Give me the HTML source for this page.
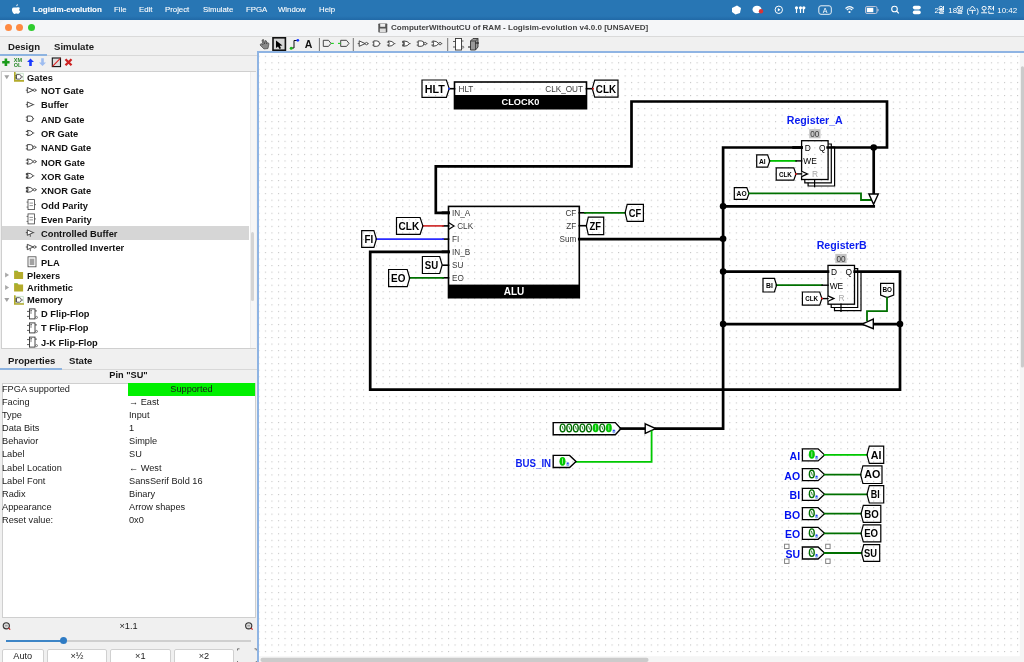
<!DOCTYPE html><html><head><meta charset="utf-8"><style>
html,body{margin:0;padding:0;width:1024px;height:662px;overflow:hidden;background:#f0f0f0;font-family:"Liberation Sans", sans-serif;}
.a{position:absolute;}
.t{position:absolute;white-space:nowrap;line-height:1;}
body>div,svg{will-change:transform;}
</style></head><body>

<div class="a" style="left:0;top:0;width:1024px;height:20px;background:linear-gradient(#2876b4 0,#2876b4 80%,#2169a6 100%);"></div>
<div class="t" style="left:32.5px;top:6.4px;font-size:8.0px;color:#fff;-webkit-text-stroke:0.1px #fff;font-weight:bold;">Logisim-evolution</div>
<div class="t" style="left:113.5px;top:6.4px;font-size:7.8px;color:#fff;-webkit-text-stroke:0.1px #fff;font-weight:normal;">File</div>
<div class="t" style="left:138.7px;top:6.4px;font-size:7.8px;color:#fff;-webkit-text-stroke:0.1px #fff;font-weight:normal;">Edit</div>
<div class="t" style="left:164.6px;top:6.4px;font-size:7.8px;color:#fff;-webkit-text-stroke:0.1px #fff;font-weight:normal;">Project</div>
<div class="t" style="left:202.5px;top:6.4px;font-size:7.8px;color:#fff;-webkit-text-stroke:0.1px #fff;font-weight:normal;">Simulate</div>
<div class="t" style="left:245.5px;top:6.4px;font-size:7.8px;color:#fff;-webkit-text-stroke:0.1px #fff;font-weight:normal;">FPGA</div>
<div class="t" style="left:278px;top:6.4px;font-size:7.8px;color:#fff;-webkit-text-stroke:0.1px #fff;font-weight:normal;">Window</div>
<div class="t" style="left:319px;top:6.4px;font-size:7.8px;color:#fff;-webkit-text-stroke:0.1px #fff;font-weight:normal;">Help</div>
<div class="a" style="left:0;top:20px;width:1024px;height:16.9px;background:#f5f6f8;border-radius:6px 0 0 0;border-bottom:0.9px solid #dadada;box-sizing:border-box;"></div>
<div class="a" style="left:4.8px;top:24.3px;width:7.4px;height:7.4px;border-radius:50%;background:#fe8a42;"></div>
<div class="a" style="left:16.3px;top:24.3px;width:7.4px;height:7.4px;border-radius:50%;background:#fe8a42;"></div>
<div class="a" style="left:28.3px;top:24.3px;width:7.4px;height:7.4px;border-radius:50%;background:#2fcc2f;"></div>
<div class="t" style="left:391px;top:24px;font-size:8.06px;font-weight:bold;color:#444;">ComputerWithoutCU of RAM - Logisim-evolution v4.0.0 [UNSAVED]</div>
<div class="t" style="left:8px;top:42px;font-size:9.6px;font-weight:bold;color:#1a1a1a;">Design</div>
<div class="t" style="left:54px;top:42px;font-size:9.6px;font-weight:bold;color:#1a1a1a;">Simulate</div>
<div class="a" style="left:0;top:55px;width:257px;height:1px;background:#d8d8d8;"></div>
<div class="a" style="left:0;top:53.6px;width:47px;height:2px;background:#8db3e0;"></div>
<div class="a" style="left:1px;top:70.5px;width:255px;height:278px;background:#fff;border:1px solid #cfcfcf;box-sizing:border-box;"></div>
<div class="a" style="left:249.8px;top:71.5px;width:5.5px;height:276px;background:#f6f6f6;border-left:0.6px solid #ececec;box-sizing:border-box;"></div>
<div class="a" style="left:250.5px;top:231.5px;width:3px;height:69px;background:#d4d4d4;border-radius:2px;"></div>
<div class="a" style="left:2px;top:226.2px;width:247px;height:14px;background:#d6d6d6;"></div>
<div class="t" style="left:27px;top:73.5px;font-size:9.3px;font-weight:bold;color:#111;">Gates</div>
<div class="t" style="left:41px;top:87.0px;font-size:9.3px;font-weight:bold;color:#111;">NOT Gate</div>
<div class="t" style="left:41px;top:101.4px;font-size:9.3px;font-weight:bold;color:#111;">Buffer</div>
<div class="t" style="left:41px;top:115.60000000000001px;font-size:9.3px;font-weight:bold;color:#111;">AND Gate</div>
<div class="t" style="left:41px;top:130.1px;font-size:9.3px;font-weight:bold;color:#111;">OR Gate</div>
<div class="t" style="left:41px;top:144.3px;font-size:9.3px;font-weight:bold;color:#111;">NAND Gate</div>
<div class="t" style="left:41px;top:158.6px;font-size:9.3px;font-weight:bold;color:#111;">NOR Gate</div>
<div class="t" style="left:41px;top:172.8px;font-size:9.3px;font-weight:bold;color:#111;">XOR Gate</div>
<div class="t" style="left:41px;top:186.70000000000002px;font-size:9.3px;font-weight:bold;color:#111;">XNOR Gate</div>
<div class="t" style="left:41px;top:201.6px;font-size:9.3px;font-weight:bold;color:#111;">Odd Parity</div>
<div class="t" style="left:41px;top:215.8px;font-size:9.3px;font-weight:bold;color:#111;">Even Parity</div>
<div class="t" style="left:41px;top:230.0px;font-size:9.3px;font-weight:bold;color:#111;">Controlled Buffer</div>
<div class="t" style="left:41px;top:244.3px;font-size:9.3px;font-weight:bold;color:#111;">Controlled Inverter</div>
<div class="t" style="left:41px;top:258.7px;font-size:9.3px;font-weight:bold;color:#111;">PLA</div>
<div class="t" style="left:27px;top:271.59999999999997px;font-size:9.3px;font-weight:bold;color:#111;">Plexers</div>
<div class="t" style="left:27px;top:284.09999999999997px;font-size:9.3px;font-weight:bold;color:#111;">Arithmetic</div>
<div class="t" style="left:27px;top:296.29999999999995px;font-size:9.3px;font-weight:bold;color:#111;">Memory</div>
<div class="t" style="left:41px;top:310.2px;font-size:9.3px;font-weight:bold;color:#111;">D Flip-Flop</div>
<div class="t" style="left:41px;top:324.2px;font-size:9.3px;font-weight:bold;color:#111;">T Flip-Flop</div>
<div class="t" style="left:41px;top:338.7px;font-size:9.3px;font-weight:bold;color:#111;">J-K Flip-Flop</div>
<div class="t" style="left:7.5px;top:355.5px;font-size:9.6px;font-weight:bold;color:#1a1a1a;">Properties</div>
<div class="t" style="left:69.3px;top:355.5px;font-size:9.6px;font-weight:bold;color:#1a1a1a;">State</div>
<div class="a" style="left:0;top:368.5px;width:257px;height:1px;background:#d8d8d8;"></div>
<div class="a" style="left:0;top:367.8px;width:61.5px;height:1.6px;background:#8db3e0;"></div>
<div class="t" style="left:0;width:257px;text-align:center;top:371px;font-size:9.2px;font-weight:bold;color:#111;">Pin "SU"</div>
<div class="a" style="left:1.5px;top:382.5px;width:253.9px;height:235px;background:#fff;border:1px solid #cfcfcf;box-sizing:border-box;"></div>
<div class="a" style="left:128px;top:383.3px;width:127px;height:13px;background:#00f000;"></div>
<div class="t" style="left:2px;top:384.7px;font-size:9.2px;color:#1a1a1a;">FPGA supported</div>
<div class="t" style="left:128px;width:127px;text-align:center;top:384.7px;font-size:9.2px;color:#1a1a1a;">Supported</div>
<div class="t" style="left:2px;top:397.84999999999997px;font-size:9.2px;color:#1a1a1a;">Facing</div>
<div class="t" style="left:128.6px;top:397.84999999999997px;font-size:9.2px;color:#1a1a1a;">→ East</div>
<div class="t" style="left:2px;top:411.0px;font-size:9.2px;color:#1a1a1a;">Type</div>
<div class="t" style="left:128.6px;top:411.0px;font-size:9.2px;color:#1a1a1a;">Input</div>
<div class="t" style="left:2px;top:424.15px;font-size:9.2px;color:#1a1a1a;">Data Bits</div>
<div class="t" style="left:128.6px;top:424.15px;font-size:9.2px;color:#1a1a1a;">1</div>
<div class="t" style="left:2px;top:437.3px;font-size:9.2px;color:#1a1a1a;">Behavior</div>
<div class="t" style="left:128.6px;top:437.3px;font-size:9.2px;color:#1a1a1a;">Simple</div>
<div class="t" style="left:2px;top:450.45px;font-size:9.2px;color:#1a1a1a;">Label</div>
<div class="t" style="left:128.6px;top:450.45px;font-size:9.2px;color:#1a1a1a;">SU</div>
<div class="t" style="left:2px;top:463.6px;font-size:9.2px;color:#1a1a1a;">Label Location</div>
<div class="t" style="left:128.6px;top:463.6px;font-size:9.2px;color:#1a1a1a;">← West</div>
<div class="t" style="left:2px;top:476.75px;font-size:9.2px;color:#1a1a1a;">Label Font</div>
<div class="t" style="left:128.6px;top:476.75px;font-size:9.2px;color:#1a1a1a;">SansSerif Bold 16</div>
<div class="t" style="left:2px;top:489.9px;font-size:9.2px;color:#1a1a1a;">Radix</div>
<div class="t" style="left:128.6px;top:489.9px;font-size:9.2px;color:#1a1a1a;">Binary</div>
<div class="t" style="left:2px;top:503.05px;font-size:9.2px;color:#1a1a1a;">Appearance</div>
<div class="t" style="left:128.6px;top:503.05px;font-size:9.2px;color:#1a1a1a;">Arrow shapes</div>
<div class="t" style="left:2px;top:516.2px;font-size:9.2px;color:#1a1a1a;">Reset value:</div>
<div class="t" style="left:128.6px;top:516.2px;font-size:9.2px;color:#1a1a1a;">0x0</div>
<div class="t" style="left:0;width:257px;text-align:center;top:622px;font-size:9.2px;color:#1a1a1a;">×1.1</div>
<div class="a" style="left:5.8px;top:640px;width:245px;height:1.5px;background:#cfcfcf;"></div>
<div class="a" style="left:5.8px;top:640px;width:58px;height:1.5px;background:#3d85c6;"></div>
<div class="a" style="left:59.8px;top:637.2px;width:7px;height:7px;border-radius:50%;background:#2e7bc4;"></div>
<div class="a" style="left:2px;top:648.6px;width:41.5px;height:20px;background:#fff;border:1px solid #d0d0d0;box-sizing:border-box;border-radius:2px;"></div>
<div class="t" style="left:2px;width:41.5px;text-align:center;top:651.5px;font-size:9.2px;color:#1a1a1a;">Auto</div>
<div class="a" style="left:47px;top:648.6px;width:59.8px;height:20px;background:#fff;border:1px solid #d0d0d0;box-sizing:border-box;border-radius:2px;"></div>
<div class="t" style="left:47px;width:59.8px;text-align:center;top:651.5px;font-size:9.2px;color:#1a1a1a;">×½</div>
<div class="a" style="left:110.2px;top:648.6px;width:60.60000000000001px;height:20px;background:#fff;border:1px solid #d0d0d0;box-sizing:border-box;border-radius:2px;"></div>
<div class="t" style="left:110.2px;width:60.60000000000001px;text-align:center;top:651.5px;font-size:9.2px;color:#1a1a1a;">×1</div>
<div class="a" style="left:174px;top:648.6px;width:60px;height:20px;background:#fff;border:1px solid #d0d0d0;box-sizing:border-box;border-radius:2px;"></div>
<div class="t" style="left:174px;width:60px;text-align:center;top:651.5px;font-size:9.2px;color:#1a1a1a;">×2</div>
<div class="a" style="left:257px;top:51px;width:767px;height:611px;background:#fff;border-left:2px solid #8fb4e3;border-top:2px solid #8fb4e3;box-sizing:border-box;"></div>
<svg class="a" style="left:0;top:0;" width="1024" height="662" viewBox="0 0 1024 662" font-family='"Liberation Sans", sans-serif'>
<defs><pattern id="grid" x="258.30909999999994" y="55.7637" width="6.5409" height="6.5409" patternUnits="userSpaceOnUse"><rect width="1.1" height="1.1" fill="#c4c4c4"/></pattern></defs>
<rect x="259" y="53" width="761" height="604" fill="url(#grid)"/>
<rect x="1019.8" y="53" width="4.2" height="609" fill="#f5f5f5"/>
<rect x="259" y="656.2" width="765" height="6" fill="#f5f5f5"/>
<rect x="260.5" y="657.7" width="388" height="4.3" rx="2" fill="#cbcbcb"/>
<rect x="1020.9" y="66.2" width="3.1" height="301.4" rx="1.5" fill="#cbcbcb"/>
<path d="M448.5,212.8 L435.8,212.8 L435.8,166.4 L631.5,166.4 L631.5,101.5 L887,101.5 L887,147.5 L827.7,147.5" fill="none" stroke="#000" stroke-width="2.7" stroke-linejoin="miter" stroke-linecap="square"/>
<path d="M801.5,147.5 L723.1,147.5 L723.1,428.6 L655.7,428.6" fill="none" stroke="#000" stroke-width="2.7" stroke-linejoin="miter" stroke-linecap="square"/>
<path d="M873.7,147.5 L873.7,194" fill="none" stroke="#000" stroke-width="2.7" stroke-linejoin="miter" stroke-linecap="square"/>
<path d="M723.1,206.3 L873.7,206.3" fill="none" stroke="#000" stroke-width="2.7" stroke-linejoin="miter" stroke-linecap="square"/>
<path d="M579.3,239.1 L723.1,239.1" fill="none" stroke="#000" stroke-width="2.7" stroke-linejoin="miter" stroke-linecap="square"/>
<path d="M448.5,251.8 L370.2,251.8 L370.2,389.6 L900,389.6 L900,271.6 L854.7,271.6" fill="none" stroke="#000" stroke-width="2.7" stroke-linejoin="miter" stroke-linecap="square"/>
<path d="M828,271.6 L723.1,271.6" fill="none" stroke="#000" stroke-width="2.7" stroke-linejoin="miter" stroke-linecap="square"/>
<path d="M723.1,324.1 L900,324.1" fill="none" stroke="#000" stroke-width="2.7" stroke-linejoin="miter" stroke-linecap="square"/>
<path d="M620.9,428.6 L645.2,428.6" fill="none" stroke="#000" stroke-width="2.7" stroke-linejoin="miter" stroke-linecap="square"/>
<circle cx="873.7" cy="147.5" r="3.3" fill="#000"/>
<circle cx="723.1" cy="206.3" r="3.3" fill="#000"/>
<circle cx="723.1" cy="238.7" r="3.3" fill="#000"/>
<circle cx="723.1" cy="271.6" r="3.3" fill="#000"/>
<circle cx="723.1" cy="324.1" r="3.3" fill="#000"/>
<circle cx="900" cy="324.1" r="3.3" fill="#000"/>
<path d="M449.2,88.7 L454.5,88.7" fill="none" stroke="#000" stroke-width="1.6" stroke-linejoin="miter" stroke-linecap="square"/>
<path d="M586.5,88.7 L592.3,88.7" fill="none" stroke="#000" stroke-width="1.6" stroke-linejoin="miter" stroke-linecap="square"/>
<rect x="454.5" y="82" width="132" height="26.7" fill="none" stroke="#000" stroke-width="1.6"/>
<rect x="454.5" y="95" width="132" height="13.7" fill="#000"/>
<text x="458.5" y="91.6" font-size="8.2" text-anchor="start" fill="#3a3a3a" >HLT</text>
<text x="583" y="91.6" font-size="8.2" text-anchor="end" fill="#3a3a3a" >CLK_OUT</text>
<text x="520.5" y="104.6" font-size="9.2" font-weight="bold" text-anchor="middle" fill="#fff" >CLOCK0</text>
<path d="M422.00,80.00 L446.40,80.00 L449.20,88.65 L446.40,97.30 L422.00,97.30 Z" fill="none" stroke="#000" stroke-width="1.2"/>
<text x="424.80" y="92.54" font-size="10.8" font-weight="bold" textLength="20" lengthAdjust="spacingAndGlyphs" fill="#000">HLT</text>
<path d="M594.70,80.20 L618.00,80.20 L618.00,97.20 L594.70,97.20 L592.30,88.70 Z" fill="none" stroke="#000" stroke-width="1.2"/>
<text x="595.80" y="92.59" font-size="10.8" font-weight="bold" textLength="20.2" lengthAdjust="spacingAndGlyphs" fill="#000">CLK</text>
<circle cx="449" cy="88.7" r="1" fill="#2040ff"/>
<circle cx="593" cy="88.7" r="1" fill="#e02020"/>
<path d="M443,212.8 L448.5,212.8" fill="none" stroke="#000" stroke-width="2.7" stroke-linejoin="miter" stroke-linecap="square"/>
<path d="M443,251.8 L448.5,251.8" fill="none" stroke="#000" stroke-width="2.7" stroke-linejoin="miter" stroke-linecap="square"/>
<path d="M443,225.9 L448.5,225.9" fill="none" stroke="#000" stroke-width="1.6" stroke-linejoin="miter" stroke-linecap="square"/>
<path d="M443,239.1 L448.5,239.1" fill="none" stroke="#000" stroke-width="1.6" stroke-linejoin="miter" stroke-linecap="square"/>
<path d="M443,265.2 L448.5,265.2" fill="none" stroke="#000" stroke-width="1.6" stroke-linejoin="miter" stroke-linecap="square"/>
<path d="M443,277.8 L448.5,277.8" fill="none" stroke="#000" stroke-width="1.6" stroke-linejoin="miter" stroke-linecap="square"/>
<path d="M579.3,212.8 L585,212.8" fill="none" stroke="#000" stroke-width="1.6" stroke-linejoin="miter" stroke-linecap="square"/>
<path d="M579.3,225.7 L586.3,225.7" fill="none" stroke="#000" stroke-width="1.6" stroke-linejoin="miter" stroke-linecap="square"/>
<rect x="448.5" y="206.4" width="130.8" height="91.3" fill="none" stroke="#000" stroke-width="1.6"/>
<rect x="448.5" y="284.6" width="130.8" height="13.4" fill="#000"/>
<text x="452" y="215.8" font-size="8.2" text-anchor="start" fill="#3a3a3a" >IN_A</text>
<text x="452" y="242.1" font-size="8.2" text-anchor="start" fill="#3a3a3a" >FI</text>
<text x="452" y="254.8" font-size="8.2" text-anchor="start" fill="#3a3a3a" >IN_B</text>
<text x="452" y="268.2" font-size="8.2" text-anchor="start" fill="#3a3a3a" >SU</text>
<text x="452" y="280.8" font-size="8.2" text-anchor="start" fill="#3a3a3a" >EO</text>
<text x="457.2" y="228.9" font-size="8.2" text-anchor="start" fill="#3a3a3a" >CLK</text>
<path d="M448.5,222.4 L454,225.9 L448.5,229.4" fill="none" stroke="#000" stroke-width="1.2"/>
<text x="576.3" y="215.8" font-size="8.2" text-anchor="end" fill="#3a3a3a" >CF</text>
<text x="576.3" y="228.7" font-size="8.2" text-anchor="end" fill="#3a3a3a" >ZF</text>
<text x="576.3" y="242.1" font-size="8.2" text-anchor="end" fill="#3a3a3a" >Sum</text>
<text x="514" y="295.2" font-size="10" font-weight="bold" text-anchor="middle" fill="#fff" >ALU</text>
<path d="M422.9,225.9 L443,225.9" fill="none" stroke="#cc2020" stroke-width="1.6" stroke-linejoin="miter" stroke-linecap="square"/>
<path d="M376.4,239.1 L443,239.1" fill="none" stroke="#2a2aff" stroke-width="1.8" stroke-linejoin="miter" stroke-linecap="square"/>
<path d="M409.7,277.8 L443,277.8" fill="none" stroke="#007000" stroke-width="1.8" stroke-linejoin="miter" stroke-linecap="square"/>
<path d="M585,212.8 L625.1,212.8" fill="none" stroke="#007000" stroke-width="1.8" stroke-linejoin="miter" stroke-linecap="square"/>
<path d="M396.50,217.50 L420.10,217.50 L422.90,225.90 L420.10,234.30 L396.50,234.30 Z" fill="none" stroke="#000" stroke-width="1.2"/>
<text x="398.60" y="229.79" font-size="10.8" font-weight="bold" textLength="20.6" lengthAdjust="spacingAndGlyphs" fill="#000">CLK</text>
<path d="M361.70,230.70 L373.90,230.70 L376.40,239.00 L373.90,247.30 L361.70,247.30 Z" fill="none" stroke="#000" stroke-width="1.2"/>
<text x="364.50" y="242.89" font-size="10.8" font-weight="bold" textLength="8.7" lengthAdjust="spacingAndGlyphs" fill="#000">FI</text>
<path d="M422.40,256.50 L439.70,256.50 L442.20,265.00 L439.70,273.50 L422.40,273.50 Z" fill="none" stroke="#000" stroke-width="1.2"/>
<text x="424.80" y="268.89" font-size="10.8" font-weight="bold" textLength="13.4" lengthAdjust="spacingAndGlyphs" fill="#000">SU</text>
<path d="M388.60,269.50 L407.20,269.50 L409.70,278.05 L407.20,286.60 L388.60,286.60 Z" fill="none" stroke="#000" stroke-width="1.2"/>
<text x="391.10" y="281.94" font-size="10.8" font-weight="bold" textLength="14.3" lengthAdjust="spacingAndGlyphs" fill="#000">EO</text>
<path d="M627.20,204.40 L643.40,204.40 L643.40,221.30 L627.20,221.30 L625.10,212.85 Z" fill="none" stroke="#000" stroke-width="1.2"/>
<text x="628.80" y="216.59" font-size="10.4" font-weight="bold" textLength="12.4" lengthAdjust="spacingAndGlyphs" fill="#000">CF</text>
<path d="M588.30,217.10 L603.70,217.10 L603.70,234.60 L588.30,234.60 L586.30,225.85 Z" fill="none" stroke="#000" stroke-width="1.2"/>
<text x="589.40" y="229.59" font-size="10.4" font-weight="bold" textLength="11.5" lengthAdjust="spacingAndGlyphs" fill="#000">ZF</text>
<path d="M828.1,144.0 L831.3000000000001,144.0 L831.3000000000001,182.8 L804.8000000000001,182.8 L804.8000000000001,179.5" fill="none" stroke="#000" stroke-width="1.2"/>
<path d="M831.3000000000001,147.2 L834.6,147.2 L834.6,186.0 L808.1,186.0 L808.1,182.8" fill="none" stroke="#000" stroke-width="1.2"/>
<rect x="801.6" y="140.7" width="26.5" height="38.8" fill="none" stroke="#000" stroke-width="1.3"/>
<path d="M814.6,179.5 L814.6,186.7" fill="none" stroke="#000" stroke-width="1.2" stroke-linejoin="miter" stroke-linecap="square"/>
<text x="804.7" y="150.7" font-size="8.4" text-anchor="start" fill="#000" >D</text>
<text x="819.0" y="150.7" font-size="8.4" text-anchor="start" fill="#000" >Q</text>
<text x="803.3000000000001" y="163.79999999999998" font-size="8.4" text-anchor="start" fill="#000" >WE</text>
<text x="812.1" y="176.6" font-size="8.4" text-anchor="start" fill="#a8a8a8" >R</text>
<path d="M801.6,171.2 L807.5,173.89999999999998 L801.6,176.6" fill="#fff" stroke="#000" stroke-width="1.2"/>
<rect x="809.2" y="129.1" width="11.3" height="9.2" fill="#c4c4c4"/>
<text x="814.85" y="136.7" font-size="8.2" text-anchor="middle" fill="#3a3a3a" >00</text>
<text x="786.8" y="124" font-size="10.6" font-weight="bold" text-anchor="start" fill="#0a1cf0" >Register_A</text>
<path d="M854.5,268.7 L857.7,268.7 L857.7,307.5 L831.2,307.5 L831.2,304.2" fill="none" stroke="#000" stroke-width="1.2"/>
<path d="M857.7,271.9 L861.0,271.9 L861.0,310.7 L834.5,310.7 L834.5,307.5" fill="none" stroke="#000" stroke-width="1.2"/>
<rect x="828" y="265.4" width="26.5" height="38.8" fill="none" stroke="#000" stroke-width="1.3"/>
<path d="M841,304.2 L841,311.4" fill="none" stroke="#000" stroke-width="1.2" stroke-linejoin="miter" stroke-linecap="square"/>
<text x="831.1" y="275.4" font-size="8.4" text-anchor="start" fill="#000" >D</text>
<text x="845.4" y="275.4" font-size="8.4" text-anchor="start" fill="#000" >Q</text>
<text x="829.7" y="288.5" font-size="8.4" text-anchor="start" fill="#000" >WE</text>
<text x="838.5" y="301.29999999999995" font-size="8.4" text-anchor="start" fill="#a8a8a8" >R</text>
<path d="M828,295.9 L833.9,298.59999999999997 L828,301.29999999999995" fill="#fff" stroke="#000" stroke-width="1.2"/>
<rect x="835.3" y="253.9" width="11.3" height="9.2" fill="#c4c4c4"/>
<text x="840.9499999999999" y="261.5" font-size="8.2" text-anchor="middle" fill="#3a3a3a" >00</text>
<text x="816.7" y="248.5" font-size="10.6" font-weight="bold" text-anchor="start" fill="#0a1cf0" >RegisterB</text>
<path d="M793.6,147.5 L801.6,147.5" fill="none" stroke="#000" stroke-width="2.7" stroke-linejoin="miter" stroke-linecap="square"/>
<path d="M769.8,160.9 L796,160.9" fill="none" stroke="#00c000" stroke-width="1.8" stroke-linejoin="miter" stroke-linecap="square"/>
<path d="M796,160.9 L801.6,160.9" fill="none" stroke="#000" stroke-width="1.4" stroke-linejoin="miter" stroke-linecap="square"/>
<path d="M796,173.9 L801.6,173.9" fill="none" stroke="#000" stroke-width="1.4" stroke-linejoin="miter" stroke-linecap="square"/>
<path d="M756.70,154.90 L767.60,154.90 L769.80,161.00 L767.60,167.10 L756.70,167.10 Z" fill="none" stroke="#000" stroke-width="1.2"/>
<text x="759.00" y="163.59" font-size="7.2" font-weight="bold" textLength="6.7" lengthAdjust="spacingAndGlyphs" fill="#000">AI</text>
<path d="M776.20,167.90 L793.80,167.90 L796.00,174.05 L793.80,180.20 L776.20,180.20 Z" fill="none" stroke="#000" stroke-width="1.2"/>
<text x="779.00" y="176.64" font-size="7.2" font-weight="bold" textLength="12.9" lengthAdjust="spacingAndGlyphs" fill="#000">CLK</text>
<circle cx="796" cy="173.9" r="1" fill="#e02020"/>
<path d="M734.30,187.60 L746.80,187.60 L749.00,193.50 L746.80,199.40 L734.30,199.40 Z" fill="none" stroke="#000" stroke-width="1.2"/>
<text x="736.60" y="196.09" font-size="7.2" font-weight="bold" textLength="10" lengthAdjust="spacingAndGlyphs" fill="#000">AO</text>
<path d="M749,193.3 L861,193.3 L861,200 L871,200" fill="none" stroke="#007000" stroke-width="1.8" stroke-linejoin="miter" stroke-linecap="square"/>
<path d="M868.90,194.00 L878.30,194.00 L873.60,204.40 Z" fill="#fff" stroke="#000" stroke-width="1.4"/>
<path d="M776.6,285.2 L822,285.2" fill="none" stroke="#007000" stroke-width="1.8" stroke-linejoin="miter" stroke-linecap="square"/>
<path d="M822,285.2 L828,285.2" fill="none" stroke="#000" stroke-width="1.4" stroke-linejoin="miter" stroke-linecap="square"/>
<path d="M821.9,298.6 L828,298.6" fill="none" stroke="#000" stroke-width="1.4" stroke-linejoin="miter" stroke-linecap="square"/>
<path d="M763.00,278.40 L774.40,278.40 L776.60,285.20 L774.40,292.00 L763.00,292.00 Z" fill="none" stroke="#000" stroke-width="1.2"/>
<text x="766.00" y="287.79" font-size="7.2" font-weight="bold" textLength="6.8" lengthAdjust="spacingAndGlyphs" fill="#000">BI</text>
<path d="M802.40,292.00 L819.70,292.00 L821.90,298.55 L819.70,305.10 L802.40,305.10 Z" fill="none" stroke="#000" stroke-width="1.2"/>
<text x="805.20" y="301.14" font-size="7.2" font-weight="bold" textLength="12.9" lengthAdjust="spacingAndGlyphs" fill="#000">CLK</text>
<circle cx="821.9" cy="298.6" r="1" fill="#e02020"/>
<path d="M880.60,283.30 L893.70,283.30 L893.70,295.10 L887.15,297.60 L880.60,295.10 Z" fill="none" stroke="#000" stroke-width="1.2"/>
<text x="882.50" y="291.79" font-size="7.2" font-weight="bold" textLength="9.5" lengthAdjust="spacingAndGlyphs" fill="#000">BO</text>
<path d="M887,297.6 L887,311.2 L867,311.2 L867,320" fill="none" stroke="#007000" stroke-width="1.8" stroke-linejoin="miter" stroke-linecap="square"/>
<path d="M873.30,319.10 L873.30,328.60 L862.00,324.10 Z" fill="#fff" stroke="#000" stroke-width="1.4"/>
<path d="M553.20,422.60 L615.30,422.60 L620.90,428.65 L615.30,434.70 L553.20,434.70 Z" fill="none" stroke="#000" stroke-width="1.4"/>
<ellipse cx="562.6" cy="427.9" rx="2.4" ry="3.8" fill="#fff" stroke="#006e00" stroke-width="1.4"/>
<path d="M562.2,426.09999999999997 L563.2,429.5" stroke="#006e00" stroke-width="0.8"/>
<ellipse cx="569.2" cy="427.9" rx="2.4" ry="3.8" fill="#fff" stroke="#006e00" stroke-width="1.4"/>
<path d="M568.8000000000001,426.09999999999997 L569.8000000000001,429.5" stroke="#006e00" stroke-width="0.8"/>
<ellipse cx="575.8000000000001" cy="427.9" rx="2.4" ry="3.8" fill="#fff" stroke="#006e00" stroke-width="1.4"/>
<path d="M575.4000000000001,426.09999999999997 L576.4000000000001,429.5" stroke="#006e00" stroke-width="0.8"/>
<ellipse cx="582.4" cy="427.9" rx="2.4" ry="3.8" fill="#fff" stroke="#006e00" stroke-width="1.4"/>
<path d="M582.0,426.09999999999997 L583.0,429.5" stroke="#006e00" stroke-width="0.8"/>
<ellipse cx="589.0" cy="427.9" rx="2.4" ry="3.8" fill="#fff" stroke="#006e00" stroke-width="1.4"/>
<path d="M588.6,426.09999999999997 L589.6,429.5" stroke="#006e00" stroke-width="0.8"/>
<ellipse cx="595.6" cy="427.9" rx="3" ry="4.4" fill="#00c800"/>
<path d="M595.6,425.09999999999997 L595.6,430.4" stroke="#bfe8bf" stroke-width="0.8"/>
<ellipse cx="602.2" cy="427.9" rx="2.4" ry="3.8" fill="#fff" stroke="#006e00" stroke-width="1.4"/>
<path d="M601.8000000000001,426.09999999999997 L602.8000000000001,429.5" stroke="#006e00" stroke-width="0.8"/>
<ellipse cx="608.8000000000001" cy="427.9" rx="3" ry="4.4" fill="#00c800"/>
<path d="M608.8000000000001,425.09999999999997 L608.8000000000001,430.4" stroke="#bfe8bf" stroke-width="0.8"/>
<rect x="612.4" y="429.5" width="3" height="3.9" rx="1.3" fill="#8fb0ee"/><circle cx="613.9" cy="430.5" r="0.8" fill="#1a2aff"/>
<path d="M645.20,423.80 L645.20,433.50 L655.70,428.60 Z" fill="#fff" stroke="#000" stroke-width="1.4"/>
<path d="M651.6,431.5 L651.6,461.9 L576,461.9" fill="none" stroke="#00c800" stroke-width="1.8" stroke-linejoin="miter" stroke-linecap="square"/>
<path d="M553.20,455.40 L569.60,455.40 L576.00,461.45 L569.60,467.50 L553.20,467.50 Z" fill="none" stroke="#000" stroke-width="1.4"/>
<ellipse cx="562.5" cy="461.3" rx="3" ry="4.4" fill="#00c800"/>
<path d="M562.5,458.5 L562.5,463.8" stroke="#bfe8bf" stroke-width="0.8"/>
<rect x="566.3" y="462.3" width="3" height="3.9" rx="1.3" fill="#8fb0ee"/><circle cx="567.8" cy="463.3" r="0.8" fill="#1a2aff"/>
<text x="515.5" y="467" font-size="10.6" font-weight="bold" text-anchor="start" fill="#0a1cf0" textLength="35.6" lengthAdjust="spacingAndGlyphs">BUS_IN</text>
<path d="M802.40,448.90 L818.10,448.90 L824.50,454.90 L818.10,460.90 L802.40,460.90 Z" fill="none" stroke="#000" stroke-width="1.3"/>
<ellipse cx="811.8" cy="454.29999999999995" rx="3" ry="4.4" fill="#00c800"/>
<path d="M811.8,451.49999999999994 L811.8,456.79999999999995" stroke="#bfe8bf" stroke-width="0.8"/>
<rect x="815.1" y="455.79999999999995" width="3" height="3.9" rx="1.3" fill="#8fb0ee"/><circle cx="816.6" cy="456.79999999999995" r="0.8" fill="#1a2aff"/>
<path d="M824.6,454.9 L867,454.9" fill="none" stroke="#00c800" stroke-width="1.8" stroke-linejoin="miter" stroke-linecap="square"/>
<path d="M869.30,446.20 L883.70,446.20 L883.70,463.40 L869.30,463.40 L867.00,454.80 Z" fill="none" stroke="#000" stroke-width="1.2"/>
<text x="870.80" y="458.54" font-size="10.4" font-weight="bold" textLength="10.7" lengthAdjust="spacingAndGlyphs" fill="#000">AI</text>
<text x="800.1" y="459.9" font-size="10.5" font-weight="bold" text-anchor="end" fill="#0010f0" >AI</text>
<path d="M802.40,468.60 L818.10,468.60 L824.50,474.60 L818.10,480.60 L802.40,480.60 Z" fill="none" stroke="#000" stroke-width="1.3"/>
<ellipse cx="811.8" cy="474.0" rx="2.4" ry="3.8" fill="#fff" stroke="#006e00" stroke-width="1.4"/>
<path d="M811.4,472.2 L812.4,475.6" stroke="#006e00" stroke-width="0.8"/>
<rect x="815.1" y="475.5" width="3" height="3.9" rx="1.3" fill="#8fb0ee"/><circle cx="816.6" cy="476.5" r="0.8" fill="#1a2aff"/>
<path d="M824.6,474.6 L860.6,474.6" fill="none" stroke="#007000" stroke-width="1.8" stroke-linejoin="miter" stroke-linecap="square"/>
<path d="M862.90,465.80 L882.00,465.80 L882.00,483.50 L862.90,483.50 L860.60,474.65 Z" fill="none" stroke="#000" stroke-width="1.2"/>
<text x="864.30" y="478.39" font-size="10.4" font-weight="bold" textLength="16.1" lengthAdjust="spacingAndGlyphs" fill="#000">AO</text>
<text x="800.1" y="479.6" font-size="10.5" font-weight="bold" text-anchor="end" fill="#0010f0" >AO</text>
<path d="M802.40,488.30 L818.10,488.30 L824.50,494.30 L818.10,500.30 L802.40,500.30 Z" fill="none" stroke="#000" stroke-width="1.3"/>
<ellipse cx="811.8" cy="493.7" rx="2.4" ry="3.8" fill="#fff" stroke="#006e00" stroke-width="1.4"/>
<path d="M811.4,491.9 L812.4,495.3" stroke="#006e00" stroke-width="0.8"/>
<rect x="815.1" y="495.2" width="3" height="3.9" rx="1.3" fill="#8fb0ee"/><circle cx="816.6" cy="496.2" r="0.8" fill="#1a2aff"/>
<path d="M824.6,494.3 L867,494.3" fill="none" stroke="#007000" stroke-width="1.8" stroke-linejoin="miter" stroke-linecap="square"/>
<path d="M869.30,485.60 L883.70,485.60 L883.70,503.00 L869.30,503.00 L867.00,494.30 Z" fill="none" stroke="#000" stroke-width="1.2"/>
<text x="870.80" y="498.04" font-size="10.4" font-weight="bold" textLength="8.9" lengthAdjust="spacingAndGlyphs" fill="#000">BI</text>
<text x="800.1" y="499.3" font-size="10.5" font-weight="bold" text-anchor="end" fill="#0010f0" >BI</text>
<path d="M802.40,507.70 L818.10,507.70 L824.50,513.70 L818.10,519.70 L802.40,519.70 Z" fill="none" stroke="#000" stroke-width="1.3"/>
<ellipse cx="811.8" cy="513.1" rx="2.4" ry="3.8" fill="#fff" stroke="#006e00" stroke-width="1.4"/>
<path d="M811.4,511.3 L812.4,514.7" stroke="#006e00" stroke-width="0.8"/>
<rect x="815.1" y="514.6" width="3" height="3.9" rx="1.3" fill="#8fb0ee"/><circle cx="816.6" cy="515.6" r="0.8" fill="#1a2aff"/>
<path d="M824.6,513.7 L861,513.7" fill="none" stroke="#007000" stroke-width="1.8" stroke-linejoin="miter" stroke-linecap="square"/>
<path d="M863.30,505.40 L880.80,505.40 L880.80,522.30 L863.30,522.30 L861.00,513.85 Z" fill="none" stroke="#000" stroke-width="1.2"/>
<text x="864.20" y="517.59" font-size="10.4" font-weight="bold" textLength="14.5" lengthAdjust="spacingAndGlyphs" fill="#000">BO</text>
<text x="800.1" y="518.7" font-size="10.5" font-weight="bold" text-anchor="end" fill="#0010f0" >BO</text>
<path d="M802.40,527.30 L818.10,527.30 L824.50,533.30 L818.10,539.30 L802.40,539.30 Z" fill="none" stroke="#000" stroke-width="1.3"/>
<ellipse cx="811.8" cy="532.6999999999999" rx="2.4" ry="3.8" fill="#fff" stroke="#006e00" stroke-width="1.4"/>
<path d="M811.4,530.9 L812.4,534.3" stroke="#006e00" stroke-width="0.8"/>
<rect x="815.1" y="534.1999999999999" width="3" height="3.9" rx="1.3" fill="#8fb0ee"/><circle cx="816.6" cy="535.1999999999999" r="0.8" fill="#1a2aff"/>
<path d="M824.6,533.3 L861,533.3" fill="none" stroke="#007000" stroke-width="1.8" stroke-linejoin="miter" stroke-linecap="square"/>
<path d="M863.30,524.90 L880.80,524.90 L880.80,541.90 L863.30,541.90 L861.00,533.40 Z" fill="none" stroke="#000" stroke-width="1.2"/>
<text x="864.20" y="537.14" font-size="10.4" font-weight="bold" textLength="13.9" lengthAdjust="spacingAndGlyphs" fill="#000">EO</text>
<text x="800.1" y="538.3" font-size="10.5" font-weight="bold" text-anchor="end" fill="#0010f0" >EO</text>
<path d="M802.40,547.00 L818.10,547.00 L824.50,553.00 L818.10,559.00 L802.40,559.00 Z" fill="none" stroke="#000" stroke-width="1.3"/>
<ellipse cx="811.8" cy="552.4" rx="2.4" ry="3.8" fill="#fff" stroke="#006e00" stroke-width="1.4"/>
<path d="M811.4,550.6 L812.4,554.0" stroke="#006e00" stroke-width="0.8"/>
<rect x="815.1" y="553.9" width="3" height="3.9" rx="1.3" fill="#8fb0ee"/><circle cx="816.6" cy="554.9" r="0.8" fill="#1a2aff"/>
<path d="M824.6,553.0 L861.5,553.0" fill="none" stroke="#007000" stroke-width="1.8" stroke-linejoin="miter" stroke-linecap="square"/>
<path d="M863.80,544.60 L879.70,544.60 L879.70,561.40 L863.80,561.40 L861.50,553.00 Z" fill="none" stroke="#000" stroke-width="1.2"/>
<text x="864.00" y="556.74" font-size="10.4" font-weight="bold" textLength="13" lengthAdjust="spacingAndGlyphs" fill="#000">SU</text>
<text x="800.1" y="558.0" font-size="10.5" font-weight="bold" text-anchor="end" fill="#0010f0" >SU</text>
<rect x="784.5999999999999" y="544.1999999999999" width="4.4" height="4.4" fill="#fff" stroke="#777" stroke-width="0.9"/>
<rect x="825.6999999999999" y="544.1999999999999" width="4.4" height="4.4" fill="#fff" stroke="#777" stroke-width="0.9"/>
<rect x="784.5999999999999" y="559.0" width="4.4" height="4.4" fill="#fff" stroke="#777" stroke-width="0.9"/>
<rect x="825.6999999999999" y="559.0" width="4.4" height="4.4" fill="#fff" stroke="#777" stroke-width="0.9"/>
<path d="M4.3,75.3 L9.3,75.3 L6.8,79.3 Z" fill="#a0a0a0"/>
<path d="M15.3,73.3 L23.3,73.3 L23.3,80.3 L15.3,80.3 Z" fill="#fff" stroke="#9c9" stroke-width="0.5"/>
<path d="M14,72.1 L15.6,72.1 L15.6,80.1 L24,80.1 L24,81.69999999999999 L14,81.69999999999999 Z" fill="#b3ab2b"/>
<path d="M16.5,74.6 L19.5,74.6 A2.3,2.3 0 0 1 19.5,79.1 L16.5,79.1 Z" fill="none" stroke="#333" stroke-width="0.8"/>
<path d="M15,75.89999999999999 L16.5,75.89999999999999 M15,77.89999999999999 L16.5,77.89999999999999 M21.8,76.89999999999999 L23,76.89999999999999" stroke="#333" stroke-width="0.7"/>
<path d="M5.1,272.5 L9.1,275.0 L5.1,277.5 Z" fill="#a8a8a8"/>
<path d="M14.1,270.8 L17.6,270.8 L18.6,272.0 L23.1,272.0 L23.1,279.1 L14.1,279.1 Z" fill="#b3ab2b"/>
<path d="M14.6,271.3 L17.1,271.3" stroke="#5c5" stroke-width="0.6"/>
<path d="M5.1,285 L9.1,287.5 L5.1,290 Z" fill="#a8a8a8"/>
<path d="M14.1,283.3 L17.6,283.3 L18.6,284.5 L23.1,284.5 L23.1,291.6 L14.1,291.6 Z" fill="#b3ab2b"/>
<path d="M14.6,283.8 L17.1,283.8" stroke="#5c5" stroke-width="0.6"/>
<path d="M4.3,298 L9.3,298 L6.8,302 Z" fill="#a0a0a0"/>
<path d="M15.3,296.4 L23.3,296.4 L23.3,303.4 L15.3,303.4 Z" fill="#fff" stroke="#9c9" stroke-width="0.5"/>
<path d="M14,295.2 L15.6,295.2 L15.6,303.2 L24,303.2 L24,304.8 L14,304.8 Z" fill="#b3ab2b"/>
<path d="M16.5,297.7 L19.5,297.7 A2.3,2.3 0 0 1 19.5,302.2 L16.5,302.2 Z" fill="none" stroke="#333" stroke-width="0.8"/>
<path d="M15,299.0 L16.5,299.0 M15,301.0 L16.5,301.0 M21.8,300.0 L23,300.0" stroke="#333" stroke-width="0.7"/>
<path d="M27.3,87.5 L33.3,90.2 L27.3,92.9 Z" fill="#fff" stroke="#333" stroke-width="0.9"/><path d="M25.8,90.2 L27.3,90.2" stroke="#333" stroke-width="0.8"/><circle cx="34.6" cy="90.2" r="1.2" fill="#fff" stroke="#333" stroke-width="0.8"/><path d="M35.8,90.2 L36.8,90.2" stroke="#333" stroke-width="0.8"/>
<path d="M27.3,101.89999999999999 L33.3,104.6 L27.3,107.3 Z" fill="#fff" stroke="#333" stroke-width="0.9"/><path d="M25.8,104.6 L27.3,104.6" stroke="#333" stroke-width="0.8"/><path d="M33.3,104.6 L34.3,104.6" stroke="#333" stroke-width="0.8"/>
<path d="M27.3,116.0 L30.3,116.0 A2.7,2.7 0 0 1 30.3,121.4 L27.3,121.4 Z" fill="#fff" stroke="#333" stroke-width="0.9"/><path d="M25.8,117.2 L27.3,117.2 M25.8,120.2 L27.3,120.2" stroke="#333" stroke-width="0.8"/><path d="M33.0,118.7 L34.1,118.7" stroke="#333" stroke-width="0.8"/>
<path d="M27.3,130.3 Q31.3,130.3 33.3,133 Q31.3,135.7 27.3,135.7 Q28.900000000000002,133 27.3,130.3 Z" fill="#fff" stroke="#333" stroke-width="0.9"/><path d="M25.8,131.5 L28.1,131.5 M25.8,134.5 L28.1,134.5" stroke="#333" stroke-width="0.8"/><path d="M33.3,133 L34.3,133" stroke="#333" stroke-width="0.8"/>
<path d="M27.3,144.60000000000002 L30.3,144.60000000000002 A2.7,2.7 0 0 1 30.3,150.0 L27.3,150.0 Z" fill="#fff" stroke="#333" stroke-width="0.9"/><path d="M25.8,145.8 L27.3,145.8 M25.8,148.8 L27.3,148.8" stroke="#333" stroke-width="0.8"/><circle cx="34.3" cy="147.3" r="1.2" fill="#fff" stroke="#333" stroke-width="0.8"/><path d="M35.5,147.3 L36.6,147.3" stroke="#333" stroke-width="0.8"/>
<path d="M27.3,158.9 Q31.3,158.9 33.3,161.6 Q31.3,164.29999999999998 27.3,164.29999999999998 Q28.900000000000002,161.6 27.3,158.9 Z" fill="#fff" stroke="#333" stroke-width="0.9"/><path d="M25.8,160.1 L28.1,160.1 M25.8,163.1 L28.1,163.1" stroke="#333" stroke-width="0.8"/><circle cx="34.6" cy="161.6" r="1.2" fill="#fff" stroke="#333" stroke-width="0.8"/><path d="M35.8,161.6 L36.8,161.6" stroke="#333" stroke-width="0.8"/>
<path d="M27.3,173.10000000000002 Q31.3,173.10000000000002 33.3,175.8 Q31.3,178.5 27.3,178.5 Q28.900000000000002,175.8 27.3,173.10000000000002 Z" fill="#fff" stroke="#333" stroke-width="0.9"/><path d="M25.8,174.3 L28.1,174.3 M25.8,177.3 L28.1,177.3" stroke="#333" stroke-width="0.8"/><path d="M26.3,173.10000000000002 Q27.900000000000002,175.8 26.3,178.5" fill="none" stroke="#333" stroke-width="0.9"/><path d="M33.3,175.8 L34.3,175.8" stroke="#333" stroke-width="0.8"/>
<path d="M27.3,187.0 Q31.3,187.0 33.3,189.7 Q31.3,192.39999999999998 27.3,192.39999999999998 Q28.900000000000002,189.7 27.3,187.0 Z" fill="#fff" stroke="#333" stroke-width="0.9"/><path d="M25.8,188.2 L28.1,188.2 M25.8,191.2 L28.1,191.2" stroke="#333" stroke-width="0.8"/><path d="M26.3,187.0 Q27.900000000000002,189.7 26.3,192.39999999999998" fill="none" stroke="#333" stroke-width="0.9"/><circle cx="34.6" cy="189.7" r="1.2" fill="#fff" stroke="#333" stroke-width="0.8"/><path d="M35.8,189.7 L36.8,189.7" stroke="#333" stroke-width="0.8"/>
<path d="M27.3,229.9 L33.3,232.6 L27.3,235.29999999999998 Z" fill="#fff" stroke="#333" stroke-width="0.9"/><path d="M25.8,232.6 L27.3,232.6" stroke="#333" stroke-width="0.8"/><path d="M33.3,232.6 L34.3,232.6" stroke="#333" stroke-width="0.8"/><path d="M30.3,234.4 L30.3,236.79999999999998" stroke="#333" stroke-width="0.8"/>
<path d="M27.3,244.3 L33.3,247 L27.3,249.7 Z" fill="#fff" stroke="#333" stroke-width="0.9"/><path d="M25.8,247 L27.3,247" stroke="#333" stroke-width="0.8"/><circle cx="34.6" cy="247" r="1.2" fill="#fff" stroke="#333" stroke-width="0.8"/><path d="M35.8,247 L36.8,247" stroke="#333" stroke-width="0.8"/><path d="M30.3,248.8 L30.3,251.2" stroke="#333" stroke-width="0.8"/>
<rect x="28" y="199.6" width="6.5" height="10" fill="#fff" stroke="#444" stroke-width="0.8"/>
<path d="M26.5,202.1 L28,202.1 M26.5,207.1 L28,207.1 M34.5,204.6 L36,204.6" stroke="#444" stroke-width="0.7"/>
<path d="M29.5,203.1 L33,203.1 M29.5,205.6 L33,205.6" stroke="#777" stroke-width="0.8"/>
<rect x="28" y="213.9" width="6.5" height="10" fill="#fff" stroke="#444" stroke-width="0.8"/>
<path d="M26.5,216.4 L28,216.4 M26.5,221.4 L28,221.4 M34.5,218.9 L36,218.9" stroke="#444" stroke-width="0.7"/>
<path d="M29.5,217.4 L33,217.4 M29.5,219.9 L33,219.9" stroke="#777" stroke-width="0.8"/>
<rect x="28" y="256.8" width="8" height="10" fill="#fff" stroke="#444" stroke-width="0.8"/>
<rect x="29.5" y="258.5" width="5" height="6.6" fill="#bbb"/>
<path d="M30,260 L34,260 M30,262 L34,262 M30,264 L34,264" stroke="#666" stroke-width="0.6"/>
<rect x="29.5" y="308.9" width="5.5" height="10" fill="#fff" stroke="#333" stroke-width="0.9"/>
<path d="M27,311.4 L29.5,311.4 M27,316.4 L29.5,316.4 M35,310.9 L37,310.9" stroke="#333" stroke-width="0.8"/>
<circle cx="36.5" cy="317.4" r="1" fill="#fff" stroke="#333" stroke-width="0.6"/>
<path d="M30.5,310.4 L32,310.4 M31,309.9 L31,313.9 " stroke="#333" stroke-width="0.6"/>
<rect x="29.5" y="322.9" width="5.5" height="10" fill="#fff" stroke="#333" stroke-width="0.9"/>
<path d="M27,325.4 L29.5,325.4 M27,330.4 L29.5,330.4 M35,324.9 L37,324.9" stroke="#333" stroke-width="0.8"/>
<circle cx="36.5" cy="331.4" r="1" fill="#fff" stroke="#333" stroke-width="0.6"/>
<path d="M30.5,324.4 L32,324.4 M31,323.9 L31,327.9 " stroke="#333" stroke-width="0.6"/>
<rect x="29.5" y="337.1" width="5.5" height="10" fill="#fff" stroke="#333" stroke-width="0.9"/>
<path d="M27,339.6 L29.5,339.6 M27,344.6 L29.5,344.6 M35,339.1 L37,339.1" stroke="#333" stroke-width="0.8"/>
<circle cx="36.5" cy="345.6" r="1" fill="#fff" stroke="#333" stroke-width="0.6"/>
<path d="M30.5,338.6 L32,338.6 M31,338.1 L31,342.1 " stroke="#333" stroke-width="0.6"/>
<path d="M5.9,58.5 L5.9,66 M2.2,62.2 L9.6,62.2" stroke="#1a9a1a" stroke-width="2.6"/>
<text x="13.8" y="62" font-size="5.5" font-weight="bold" fill="#2a8a2a">XM</text><text x="13.8" y="67" font-size="5.5" font-weight="bold" fill="#2a8a2a">OL</text>
<path d="M30.5,58.5 L34,62 L31.8,62 L31.8,66 L29.2,66 L29.2,62 L27,62 Z" fill="#1a3aff"/>
<path d="M42.5,66 L46,62.5 L43.8,62.5 L43.8,58.3 L41.2,58.3 L41.2,62.5 L39,62.5 Z" fill="#9dbcf0"/>
<rect x="52.3" y="58" width="8.2" height="8.6" fill="#ddd" stroke="#111" stroke-width="1.1"/>
<path d="M52.5,66.3 L60.3,58.3" stroke="#dd2222" stroke-width="1.1"/>
<path d="M65.5,59.2 L71.5,65.2 M71.5,59.2 L65.5,65.2" stroke="#cc2222" stroke-width="2.3"/>
<path d="M262,40 L263.5,39.5 L264.5,44 L265,40.5 L266.5,41 L266.5,44 L267.5,42.5 L269,43.5 L268,48.5 L264,49 L260,45 L261,43.5 L263,45 Z" fill="#8a8a8a" stroke="#333" stroke-width="0.6"/>
<rect x="273" y="37.8" width="12.4" height="12.4" fill="#d6d6d6" stroke="#111" stroke-width="1.6"/>
<path d="M276,40.5 L276,48 L278,46.5 L279.5,49 L281,48.2 L279.8,45.8 L282.5,45.5 Z" fill="#000"/>
<path d="M291,48 L294,48 L294,40.5 L297.8,40.5" fill="none" stroke="#111" stroke-width="1"/>
<circle cx="291.2" cy="48.2" r="1.5" fill="#1db51d"/><circle cx="297.8" cy="40.3" r="1.4" fill="#1a3aff"/>
<text x="308.6" y="48.3" font-size="10.5" font-weight="bold" text-anchor="middle" fill="#111">A</text>
<path d="M319.4,38 L319.4,51 M353.3,38 L353.3,51 M447.7,38 L447.7,51" stroke="#666" stroke-width="0.9"/>
<path d="M323.3,40.3 L328.5,40.3 L331,43.4 L328.5,46.4 L323.3,46.4 Z" fill="#efefef" stroke="#333" stroke-width="0.9" stroke-linejoin="round"/><path d="M331,43.4 L333.8,43.4" stroke="#1bd01b" stroke-width="1.1"/>
<path d="M340.7,40.3 L346.5,40.3 L349,43.4 L346.5,46.4 L340.7,46.4 Z" fill="#efefef" stroke="#333" stroke-width="0.9" stroke-linejoin="round"/><path d="M338,43.4 L340.7,43.4" stroke="#1bd01b" stroke-width="1.1"/>
<path d="M359.2,40.9 L365.2,43.6 L359.2,46.300000000000004 Z" fill="#fff" stroke="#333" stroke-width="0.9"/><path d="M357.7,43.6 L359.2,43.6" stroke="#333" stroke-width="0.8"/><circle cx="366.5" cy="43.6" r="1.2" fill="#fff" stroke="#333" stroke-width="0.8"/><path d="M367.7,43.6 L368.7,43.6" stroke="#333" stroke-width="0.8"/>
<path d="M373.8,40.9 L376.8,40.9 A2.7,2.7 0 0 1 376.8,46.300000000000004 L373.8,46.300000000000004 Z" fill="#fff" stroke="#333" stroke-width="0.9"/><path d="M372.3,42.1 L373.8,42.1 M372.3,45.1 L373.8,45.1" stroke="#333" stroke-width="0.8"/><path d="M379.5,43.6 L380.6,43.6" stroke="#333" stroke-width="0.8"/>
<path d="M388.4,40.9 Q392.4,40.9 394.4,43.6 Q392.4,46.300000000000004 388.4,46.300000000000004 Q390.0,43.6 388.4,40.9 Z" fill="#fff" stroke="#333" stroke-width="0.9"/><path d="M386.9,42.1 L389.2,42.1 M386.9,45.1 L389.2,45.1" stroke="#333" stroke-width="0.8"/><path d="M394.4,43.6 L395.4,43.6" stroke="#333" stroke-width="0.8"/>
<path d="M403.6,40.9 Q407.6,40.9 409.6,43.6 Q407.6,46.300000000000004 403.6,46.300000000000004 Q405.20000000000005,43.6 403.6,40.9 Z" fill="#fff" stroke="#333" stroke-width="0.9"/><path d="M402.1,42.1 L404.40000000000003,42.1 M402.1,45.1 L404.40000000000003,45.1" stroke="#333" stroke-width="0.8"/><path d="M402.6,40.9 Q404.20000000000005,43.6 402.6,46.300000000000004" fill="none" stroke="#333" stroke-width="0.9"/><path d="M409.6,43.6 L410.6,43.6" stroke="#333" stroke-width="0.8"/>
<path d="M418.2,40.9 L421.2,40.9 A2.7,2.7 0 0 1 421.2,46.300000000000004 L418.2,46.300000000000004 Z" fill="#fff" stroke="#333" stroke-width="0.9"/><path d="M416.7,42.1 L418.2,42.1 M416.7,45.1 L418.2,45.1" stroke="#333" stroke-width="0.8"/><circle cx="425.2" cy="43.6" r="1.2" fill="#fff" stroke="#333" stroke-width="0.8"/><path d="M426.4,43.6 L427.5,43.6" stroke="#333" stroke-width="0.8"/>
<path d="M432.8,40.9 Q436.8,40.9 438.8,43.6 Q436.8,46.300000000000004 432.8,46.300000000000004 Q434.40000000000003,43.6 432.8,40.9 Z" fill="#fff" stroke="#333" stroke-width="0.9"/><path d="M431.3,42.1 L433.6,42.1 M431.3,45.1 L433.6,45.1" stroke="#333" stroke-width="0.8"/><circle cx="440.1" cy="43.6" r="1.2" fill="#fff" stroke="#333" stroke-width="0.8"/><path d="M441.3,43.6 L442.3,43.6" stroke="#333" stroke-width="0.8"/>
<rect x="455.5" y="38.5" width="6" height="11.5" fill="#fff" stroke="#333" stroke-width="0.9"/><path d="M453,41.5 L455.5,41.5 M453,47 L455.5,47 M461.5,41 L463.5,41" stroke="#333" stroke-width="0.8"/><circle cx="462.8" cy="47.2" r="1" fill="#fff" stroke="#333" stroke-width="0.6"/>
<path d="M470.5,41 L473,38.5 L478,38.5 L478,47 L475.5,50 L470.5,50 Z" fill="#999" stroke="#333" stroke-width="0.9"/><path d="M470.5,41 L475.5,41 L475.5,50 M475.5,41 L478,38.5" fill="none" stroke="#333" stroke-width="0.8"/><path d="M468,47 L470.5,47 M475.5,43 L479,43" stroke="#111" stroke-width="1"/>
<rect x="378.3" y="23.5" width="9" height="9" rx="0.8" fill="#555"/><rect x="380.2" y="23.8" width="5" height="3" fill="#eee"/><rect x="379.8" y="28.5" width="6" height="3.6" fill="#ddd"/>
<circle cx="6.3" cy="625.8" r="3.1" fill="#d8d8d8" stroke="#333" stroke-width="1.1"/><path d="M5.0,625.8 L7.6,625.8" stroke="#777" stroke-width="0.8"/><path d="M8.6,628 L10.2,629.6" stroke="#c22" stroke-width="1.2"/>
<circle cx="248.7" cy="625.8" r="3.1" fill="#d8d8d8" stroke="#333" stroke-width="1.1"/><path d="M247.39999999999998,625.8 L250.0,625.8" stroke="#777" stroke-width="0.8"/><path d="M251.0,628 L252.6,629.6" stroke="#c22" stroke-width="1.2"/>
<path d="M237.5,650.5 L237.5,648.8 L239.5,648.8 M254.5,648.8 L256.3,648.8 L256.3,650.5 M237.5,661 L237.5,662 M256.3,661 L256.3,662" fill="none" stroke="#555" stroke-width="0.8"/>
<path d="M16.3,6.2 C17.3,6.2 18,5.3 18,4.3 C17,4.4 16.2,5.2 16.3,6.2 Z M13.8,7.4 C12,7.4 11.5,9.4 12.3,11.4 C12.9,12.9 13.8,14 14.7,13.9 C15.4,13.9 15.5,13.6 16.3,13.6 C17.1,13.6 17.3,13.9 18,13.9 C18.9,13.8 19.8,12.5 20.2,11.5 C19,10.9 18.9,8.9 20,8.1 C19.4,7.3 18.6,7.2 18.1,7.2 C17.2,7.2 16.8,7.6 16.2,7.6 C15.5,7.6 14.8,7.4 13.8,7.4 Z" fill="#fff"/>
<path d="M732,8 L737,5.5 L741,8 L740,13 L735.5,14.5 L732,12 Z" fill="#fff"/>
<ellipse cx="757" cy="9.5" rx="4.5" ry="3.8" fill="#fff"/><circle cx="761" cy="11.2" r="2.2" fill="#d33"/>
<circle cx="778.8" cy="9.8" r="3.7" fill="none" stroke="#fff" stroke-width="1"/><path d="M777.8,8 L780.5,9.8 L777.8,11.6 Z" fill="#fff"/>
<path d="M796.5,8 L796.5,13 M800.5,8 L800.5,13 M803.5,8 L803.5,13" stroke="#fff" stroke-width="1.2"/><circle cx="796.5" cy="7.8" r="1.6" fill="#fff"/><circle cx="800.5" cy="7.8" r="1.6" fill="#fff"/><circle cx="803.8" cy="7.8" r="1.6" fill="#fff"/>
<rect x="818.8" y="5.8" width="12.5" height="8.5" rx="2.2" fill="none" stroke="#fff" stroke-width="0.9"/><text x="825" y="13" font-size="7" text-anchor="middle" fill="#fff">A</text>
<path d="M845.5,8.5 Q849.5,4.8 853.5,8.5" fill="none" stroke="#fff" stroke-width="1.1"/><path d="M846.8,10 Q849.5,7.6 852.2,10" fill="none" stroke="#fff" stroke-width="1.1"/><circle cx="849.5" cy="12" r="1.1" fill="#fff"/>
<rect x="865.5" y="6.5" width="11.5" height="7" rx="1.5" fill="none" stroke="#ccd" stroke-width="0.9"/><rect x="866.8" y="7.8" width="6.5" height="4.4" fill="#fff"/><rect x="877.5" y="9" width="1" height="2.2" fill="#ccd"/>
<circle cx="894.5" cy="9" r="2.8" fill="none" stroke="#fff" stroke-width="1.1"/><path d="M896.5,11 L898.8,13.3" stroke="#fff" stroke-width="1.2"/>
<rect x="912.8" y="5.8" width="8" height="3.6" rx="1.8" fill="#fff"/><rect x="912.8" y="10.6" width="8" height="3.6" rx="1.8" fill="#fff"/>
<text x="934.4" y="13.3" font-size="8" fill="#fff" text-anchor="start">2</text>
<text x="948.2" y="13.3" font-size="8" fill="#fff" text-anchor="start">18</text>
<text x="966.6" y="13.3" font-size="8" fill="#fff" text-anchor="start">(</text>
<text x="976.2" y="13.3" font-size="8" fill="#fff" text-anchor="start">)</text>
<text x="997.2" y="13.3" font-size="8" fill="#fff" text-anchor="start">10:42</text>
<path d="M939.1999999999999,7.5 a1.6,1.2 0 1,0 3.2,0 a1.6,1.2 0 1,0 -3.2,0 M938.9,9.6 L942.9,9.6 M940.9,9.6 L940.9,10.3 M943.5,6 L943.5,10 M942.5,8.3 L943.5,8.3 M939.5,10.8 L943.5,10.8 L943.5,12 L939.5,12 L939.5,13.3 L943.6999999999999,13.3" stroke="#fff" stroke-width="0.95" fill="none"/>
<path d="M957.3,7.8 a1.8,1.4 0 1,0 3.6,0 a1.8,1.4 0 1,0 -3.6,0 M962.2,6 L962.2,10 M957.8,10.7 L962,10.7 L962,12 L957.8,12 L957.8,13.3 L962.2,13.3" stroke="#fff" stroke-width="0.95" fill="none"/>
<path d="M972.4,6 L969.5,9.3 M972.4,6 L975.3,9.3 M968.9,10.3 L975.9,10.3 M972.4,10.3 L972.4,13.8" stroke="#fff" stroke-width="0.95" fill="none"/>
<path d="M982.0,8.2 a2.1,1.8 0 1,0 4.2,0 a2.1,1.8 0 1,0 -4.2,0 M984.1,10 L984.1,12.4 M981.1,12.8 L987.1,12.8" stroke="#fff" stroke-width="0.95" fill="none"/>
<path d="M988,6.6 L991.4,6.6 M989.7,6.6 L988,10 M989.7,7.8 L991.5,10 M993.5,6 L993.5,10.6 M991.8,8.2 L993.5,8.2 M988.8,10.8 L988.8,13.3 L993.8,13.3" stroke="#fff" stroke-width="0.95" fill="none"/>
</svg>
</body></html>
